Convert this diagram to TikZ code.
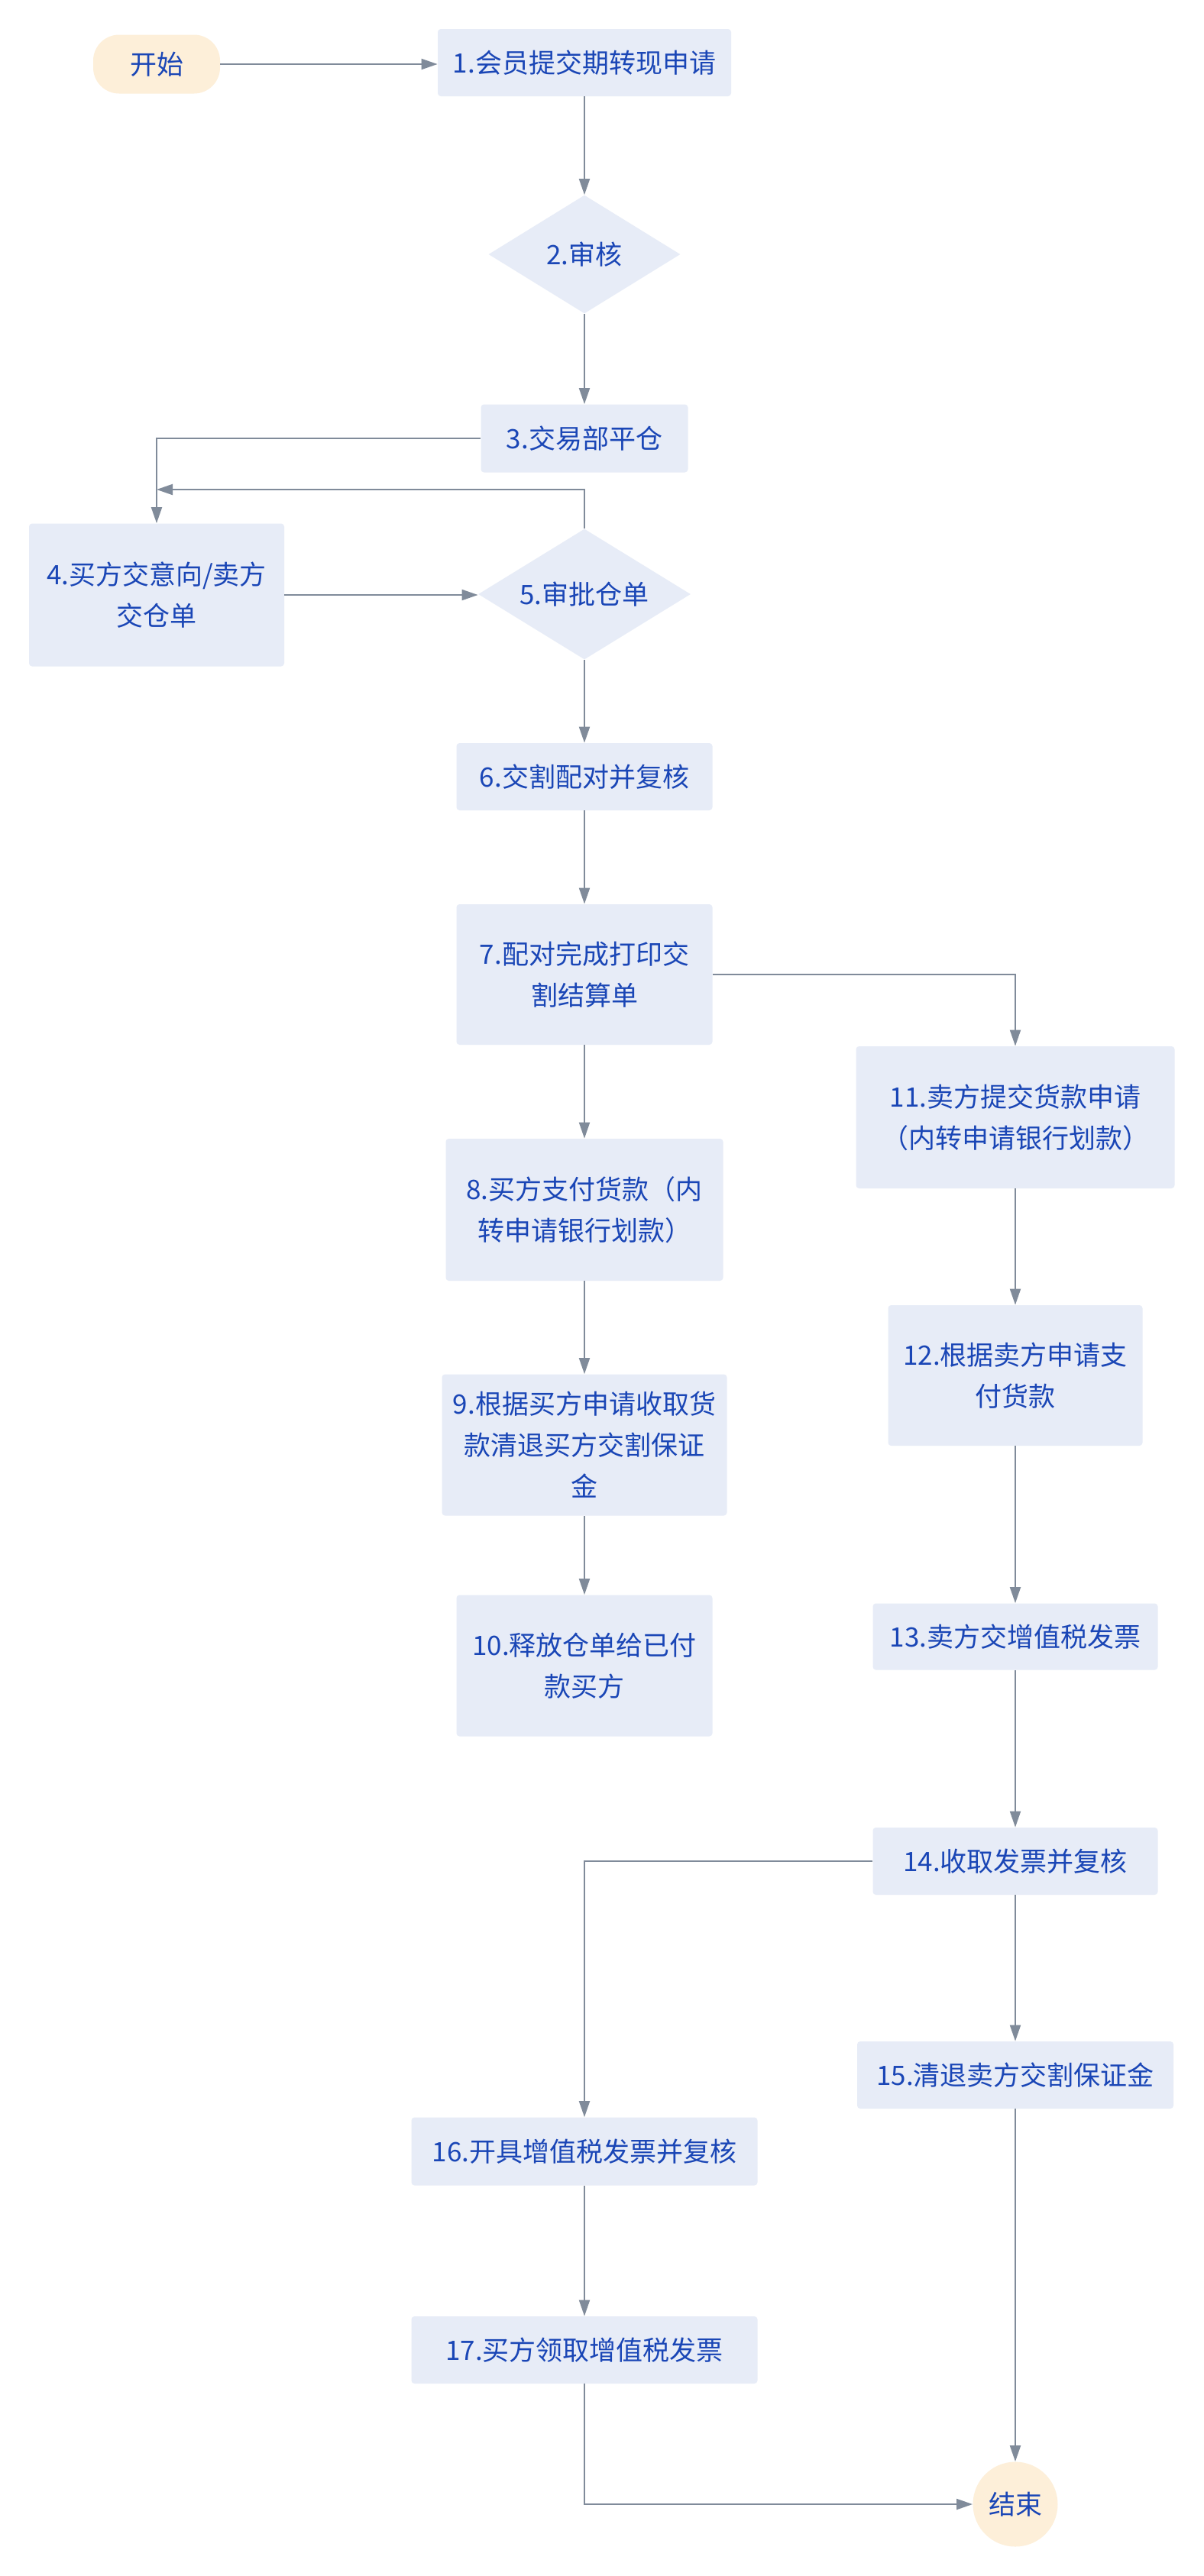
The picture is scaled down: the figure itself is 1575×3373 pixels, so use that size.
\documentclass[tikz,border=0pt]{standalone}
\usepackage{fontspec}
\setmainfont{Noto Sans CJK SC}
\usetikzlibrary{arrows.meta,shapes.geometric}
\definecolor{boxfill}{HTML}{E7ECF7}
\definecolor{startfill}{HTML}{FDEFD9}
\definecolor{linecol}{HTML}{808B9A}
\definecolor{txtcol}{HTML}{1A46B6}
\tikzset{
  base/.style={inner sep=0pt, text=txtcol, font=\fontsize{17.5}{27}\selectfont, align=center},
  procbox/.style={base, fill=boxfill, rounded corners=2pt},
  termbox/.style={base, fill=startfill},
  decision/.style={diamond, fill=boxfill, inner sep=0pt},
  flow/.style={draw=linecol, line width=1pt, -{Triangle[length=10.5pt,width=7pt]}},
}
\begin{document}
\begin{tikzpicture}[x=0.5pt,y=-0.5pt]
\fill[white] (0,0) rectangle (1575,3373);
\useasboundingbox (0,0) rectangle (1575,3373);

\node[termbox, rounded corners=17pt, minimum width=83pt, minimum height=38.5pt] (start) at (205,84) {开始};
\node[procbox, minimum width=192pt, minimum height=44pt] (n1) at (765,82) {1.会员提交期转现申请};
\node[decision, minimum width=125.5pt, minimum height=77.5pt, label={[base]center:2.审核}] (d2) at (765,333) {};
\node[procbox, minimum width=135.5pt, minimum height=44.5pt] (n3) at (765,574) {3.交易部平仓};
\node[procbox, minimum width=167pt, minimum height=93.5pt] (n4) at (205,779) {4.买方交意向/卖方\\交仓单};
\node[decision, minimum width=139pt, minimum height=85.5pt, label={[base]center:5.审批仓单}] (d5) at (765,778) {};
\node[procbox, minimum width=167.5pt, minimum height=44pt] (n6) at (765,1017) {6.交割配对并复核};
\node[procbox, minimum width=167.5pt, minimum height=92pt] (n7) at (765,1276) {7.配对完成打印交\\割结算单};
\node[procbox, minimum width=181.5pt, minimum height=93pt] (n8) at (765,1584) {8.买方支付货款（内\\转申请银行划款）};
\node[procbox, minimum width=186.5pt, minimum height=92.5pt] (n9) at (765,1892) {9.根据买方申请收取货\\款清退买方交割保证\\金};
\node[procbox, minimum width=167.5pt, minimum height=92.5pt] (n10) at (765,2181) {10.释放仓单给已付\\款买方};
\node[procbox, minimum width=208.5pt, minimum height=93pt] (n11) at (1329,1463) {11.卖方提交货款申请\\（内转申请银行划款）};
\node[procbox, minimum width=166.5pt, minimum height=92pt] (n12) at (1329,1801) {12.根据卖方申请支\\付货款};
\node[procbox, minimum width=186.5pt, minimum height=43.5pt] (n13) at (1329,2143) {13.卖方交增值税发票};
\node[procbox, minimum width=186.5pt, minimum height=44pt] (n14) at (1329,2437) {14.收取发票并复核};
\node[procbox, minimum width=207pt, minimum height=44pt] (n15) at (1329,2717) {15.清退卖方交割保证金};
\node[procbox, minimum width=226.5pt, minimum height=44.5pt] (n16) at (765,2817) {16.开具增值税发票并复核};
\node[procbox, minimum width=226.5pt, minimum height=44pt] (n17) at (765,3077) {17.买方领取增值税发票};
\node[termbox, circle, minimum size=55.5pt] (end) at (1329,3279) {结束};

\coordinate (fb) at (205,641);

\draw[flow] (start.east) -- (start.east -| n1.west);
\draw[flow] (n1) -- (d2);
\draw[flow] (d2) -- (n3);
\draw[flow] (n3.west) -| (n4.north);
\draw[flow] (d5.north) |- (fb);
\draw[flow] (n4.east) -- (n4.east -| d5.west);
\draw[flow] (d5) -- (n6);
\draw[flow] (n6) -- (n7);
\draw[flow] (n7) -- (n8);
\draw[flow] (n8) -- (n9);
\draw[flow] (n9) -- (n10);
\draw[flow] (n7.east) -| (n11.north);
\draw[flow] (n11) -- (n12);
\draw[flow] (n12) -- (n13);
\draw[flow] (n13) -- (n14);
\draw[flow] (n14) -- (n15);
\draw[flow] (n15) -- (end);
\draw[flow] (n14.west) -| (n16.north);
\draw[flow] (n16) -- (n17);
\draw[flow] (n17.south) |- (end.west);
\end{tikzpicture}
\end{document}
